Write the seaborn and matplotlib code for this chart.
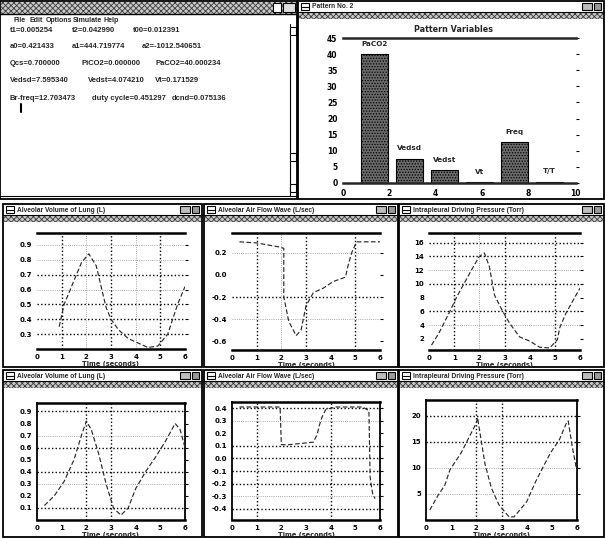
import matplotlib
matplotlib.use("Agg")
import numpy as np
import pandas as pd
import matplotlib.pyplot as plt
from matplotlib.patches import Rectangle
from matplotlib.lines import Line2D
import seaborn as sns

W, H = 605, 538

# ---------------- simulation read-out values ----------------
timing_names = ["t1", "t2", "t00"]
timing_values = [0.005254, 0.042990, 0.012391]
coef_names = ["a0", "a1", "a2"]
coef_values = [0.421433, 444.719774, -1012.540651]
gas_names = ["Qcs", "PiCO2", "PaCO2"]
gas_values = [0.700000, 0.000000, 40.000234]
vol_names = ["Vedsd", "Vedst", "Vt"]
vol_values = [7.595340, 4.074210, 0.171529]
rhythm_names = ["Br-freq", "duty cycle", "dcnd"]
rhythm_values = [12.703473, 0.451297, 0.075136]

# ---------------- pattern variables (bar chart) ----------------
bar_names = ["PaCO2", "Vedsd", "Vedst", "Vt", "Freq", "T/T"]
bar_values = [gas_values[2], vol_values[0], vol_values[1], vol_values[2],
              rhythm_values[0], rhythm_values[1]]
bar_xticklabels = ["0", "2", "4", "6", "8", "10"]
bar_yticks = [0, 5, 10, 15, 20, 25, 30, 35, 40, 45]

# ---------------- waveforms (time in seconds) ----------------
vol1_t = [0.9, 1.1, 1.4, 1.8, 2.1, 2.4, 2.6, 2.8, 3.0, 3.3, 3.7, 4.1, 4.5, 4.9, 5.3, 5.7, 6.0]
vol1_v = [0.35, 0.50, 0.62, 0.78, 0.84, 0.76, 0.62, 0.48, 0.40, 0.33, 0.27, 0.24, 0.21, 0.22, 0.30, 0.50, 0.62]

flow1_t = [0.3, 1.0, 1.5, 2.0, 2.1, 2.1, 2.3, 2.6, 2.8, 3.0, 3.3, 3.7, 4.1, 4.6, 4.7, 4.85, 5.05, 5.5, 6.0]
flow1_v = [0.30, 0.29, 0.27, 0.25, 0.24, -0.20, -0.42, -0.55, -0.50, -0.28, -0.16, -0.12, -0.06, -0.02, 0.08, 0.20, 0.30, 0.30, 0.30]

pres1_t = [0.1, 0.4, 0.8, 1.1, 1.7, 2.0, 2.2, 2.4, 2.6, 2.9, 3.2, 3.6, 4.0, 4.4, 4.8, 5.1, 5.2, 5.45, 5.8, 6.0]
pres1_v = [1.1, 2.9, 5.8, 8.1, 12.1, 14.0, 14.5, 12.5, 8.4, 6.2, 4.3, 2.3, 1.7, 0.8, 0.7, 1.9, 3.7, 5.8, 8.1, 9.4]

vol2_t = [0.3, 0.7, 1.1, 1.5, 1.8, 2.0, 2.2, 2.5, 2.8, 3.1, 3.4, 3.7, 4.0, 4.4, 4.8, 5.2, 5.6, 5.8, 6.0]
vol2_v = [0.12, 0.20, 0.32, 0.50, 0.70, 0.82, 0.75, 0.55, 0.30, 0.10, 0.04, 0.10, 0.26, 0.40, 0.52, 0.65, 0.80, 0.75, 0.60]

flow2_t = [0.3, 1.0, 1.5, 1.95, 2.0, 2.3, 2.8, 3.3, 3.45, 3.55, 3.65, 3.8, 4.2, 4.8, 5.3, 5.55, 5.6, 5.7, 5.8]
flow2_v = [0.41, 0.41, 0.41, 0.41, 0.11, 0.11, 0.12, 0.13, 0.19, 0.27, 0.33, 0.39, 0.41, 0.41, 0.41, 0.38, -0.15, -0.28, -0.32]

pres2_t = [0.15, 0.45, 0.75, 0.95, 1.4, 1.6, 2.0, 2.05, 2.2, 2.35, 2.6, 2.9, 3.3, 3.5, 4.0, 4.35, 4.7, 4.95, 5.3, 5.6, 5.65, 5.8, 6.0]
pres2_v = [1.9, 4.5, 6.7, 9.6, 12.9, 14.8, 18.6, 19.6, 15.0, 10.6, 6.1, 2.9, 0.6, 0.6, 3.5, 7.3, 10.6, 12.9, 15.4, 18.8, 19.0, 14.4, 9.2]

sns.set_style("white")
plt.rcParams["font.family"] = ["DejaVu Sans"]
plt.rcParams["hatch.linewidth"] = 0.6

fig = plt.figure(figsize=(W / 100, H / 100), dpi=100)
fig.patch.set_facecolor("white")


def frect(x0, y0, x1, y1, **kw):
    r = Rectangle((x0 / W, 1 - y1 / H), (x1 - x0) / W, (y1 - y0) / H,
                  transform=fig.transFigure, **kw)
    fig.add_artist(r)


def fline(xs, ys, **kw):
    fig.add_artist(Line2D([x / W for x in xs], [1 - y / H for y in ys],
                          transform=fig.transFigure, **kw))


def ftext(x, y, s, **kw):
    fig.text(x / W, 1 - y / H, s, **kw)


def dither(x0, y0, x1, y1):
    frect(x0, y0, x1, y1, fc="#c8c8c8", ec="#3a3a3a", hatch="xxxxxx", lw=0, zorder=-1)


def buttons(x1, y0):
    frect(x1 - 22, y0 + 2, x1 - 12, y0 + 9, fc="#bdbdbd", ec="black", lw=0.8, zorder=-0.5)
    frect(x1 - 10, y0 + 2, x1 - 3, y0 + 9, fc="#9a9a9a", ec="black", lw=0.8, zorder=-0.5)


def window(x0, y0, x1, y1, title):
    frect(x0, y0, x1, y1, fc="white", ec="black", lw=1.3, zorder=-2)
    fline([x0, x1], [y0 + 11, y0 + 11], color="black", lw=0.8, zorder=-0.5)
    frect(x0 + 3, y0 + 2, x0 + 11, y0 + 9, fc="white", ec="black", lw=0.8, zorder=-0.5)
    fline([x0 + 4, x0 + 10], [y0 + 5.5, y0 + 5.5], color="black", lw=0.8, zorder=-0.5)
    ftext(x0 + 14, y0 + 6, title, fontsize=4.8, fontweight="bold", va="center", ha="left",
          family="Liberation Sans")
    buttons(x1, y0)
    dither(x0 + 1, y0 + 11, x1 - 1, y0 + 18)


def pax(x0, y0, x1, y1):
    return fig.add_axes([x0 / W, 1 - y1 / H, (x1 - x0) / W, (y1 - y0) / H])


# ---------------- text read-out window ----------------
frect(0, 1, 297, 199, fc="white", ec="black", lw=1.3, zorder=-2)
dither(1, 2, 296, 14)
frect(273, 3, 281, 12, fc="white", ec="black", lw=0.8, zorder=-0.5)
frect(283, 3, 295, 12, fc="#e0e0e0", ec="black", lw=0.8, zorder=-0.5)
fline([0, 297], [14, 14], color="black", lw=1.0, zorder=-0.5)
for mx, m in zip([13, 29, 46, 73, 104], ["File", "Edit", "Options", "Simulate", "Help"]):
    ftext(mx, 20, m, fontsize=5.0, fontweight="bold", va="center", ha="left",
          family="Liberation Sans")
fline([290, 290], [24, 196], color="black", lw=0.8, zorder=-0.5)
for ay in (27, 153, 184):
    frect(290, ay, 296, ay + 8, fc="white", ec="black", lw=0.8, zorder=-0.5)
fline([0, 297], [196, 196], color="black", lw=0.8, zorder=-0.5)

readout_rows = [
    (timing_names, timing_values, [10, 72, 133], 30),
    (coef_names, coef_values, [10, 72, 142], 47),
    (gas_names, gas_values, [10, 81, 155], 64),
    (vol_names, vol_values, [10, 88, 155], 81),
    (rhythm_names, rhythm_values, [10, 92, 172], 98),
]
for names, vals, xs, yy in readout_rows:
    for nm, v, xx in zip(names, vals, xs):
        ftext(xx, yy, f"{nm}={v:.6f}", fontsize=5.5, fontweight="bold",
              family="Liberation Sans", va="center", ha="left")
fline([21, 21], [104, 112], color="black", lw=1.5)

# ---------------- pattern variables window ----------------
window(298, 1, 604, 199, "Pattern No. 2")
axb = pax(343, 38, 576, 183)
sns.barplot(x=bar_names, y=bar_values, ax=axb, color="#6a6a6a", saturation=1,
            width=0.77, edgecolor="black", linewidth=0.8, order=bar_names,
            hatch="......")
axb.set_xlim(-0.9, 5.76)
axb.set_ylim(0, 45)
axb.set_xticks(np.linspace(-0.9, 5.73, len(bar_xticklabels)))
axb.set_xticklabels(bar_xticklabels)
axb.set_yticks(bar_yticks)
axb.set_yticklabels([str(t) for t in bar_yticks])
axb.set_xlabel("")
axb.set_ylabel("")
for s in ("left", "right"):
    axb.spines[s].set_visible(False)
for s in ("top", "bottom"):
    axb.spines[s].set_linewidth(1.8)
axb.tick_params(axis="both", labelsize=5.5, length=2, width=0.8, pad=2,
                labelcolor="black", color="black")
axb.tick_params(axis="y", right=True, direction="out")
for lab in axb.get_xticklabels() + axb.get_yticklabels():
    lab.set_fontweight("bold")
for i, (nm, v) in enumerate(zip(bar_names, bar_values)):
    axb.text(i, v + 2.2, nm, ha="center", va="bottom", fontsize=5.2, fontweight="bold")
ftext(454, 29, "Pattern Variables", fontsize=5.8, fontweight="bold", ha="center", va="center")

# ---------------- waveform windows ----------------
dot = (0, (1, 1.6))
panels = [
    dict(win=(3, 204, 202, 367), ax=(37, 233, 185, 349),
         title="Alveolar Volume of Lung (L)", t=vol1_t, v=vol1_v,
         ylim=(0.2, 0.98), yticks=[0.3, 0.4, 0.5, 0.6, 0.7, 0.8, 0.9], fmt="{:.1f}",
         hs=[0.7, 0.5, 0.4, 0.3], hf=[0.6, 0.9, 0.8], vs=[1, 3, 5], vf=[2, 4], box=False),
    dict(win=(204, 204, 398, 367), ax=(232, 233, 380, 350),
         title="Alveolar Air Flow Wave (L/sec)", t=flow1_t, v=flow1_v,
         ylim=(-0.68, 0.38), yticks=[-0.6, -0.4, -0.2, 0.0, 0.2], fmt="{:.1f}",
         hs=[-0.2], hf=[-0.4, 0.2], vs=[1, 3, 5], vf=[2], box=False),
    dict(win=(399, 204, 604, 367), ax=(429, 233, 580, 350),
         title="Intrapleural Driving Pressure (Torr)", t=pres1_t, v=pres1_v,
         ylim=(0.4, 17.4), yticks=[2, 4, 6, 8, 10, 12, 14, 16], fmt="{:d}",
         hs=[16, 14, 10, 6], hf=[4, 12], vs=[1, 3, 5], vf=[2], box=False),
    dict(win=(3, 370, 202, 537), ax=(37, 403, 185, 520),
         title="Alveolar Volume of Lung (L)", t=vol2_t, v=vol2_v,
         ylim=(0.0, 0.97), yticks=[0.1, 0.2, 0.3, 0.4, 0.5, 0.6, 0.7, 0.8, 0.9], fmt="{:.1f}",
         hs=[0.9, 0.6, 0.4, 0.1], hf=[0.3, 0.7], vs=[2, 3], vf=[], box=True),
    dict(win=(204, 370, 398, 537), ax=(232, 402, 380, 520),
         title="Alveolar Air Flow Wave (L/sec)", t=flow2_t, v=flow2_v,
         ylim=(-0.49, 0.45), yticks=[-0.4, -0.3, -0.2, -0.1, 0.0, 0.1, 0.2, 0.3, 0.4], fmt="{:.1f}",
         hs=[0.4, 0.1, 0.0, -0.1, -0.2, -0.4], hf=[0.3, -0.3], vs=[1, 4], vf=[], box=True),
    dict(win=(399, 370, 604, 537), ax=(426, 400, 577, 520),
         title="Intrapleural Driving Pressure (Torr)", t=pres2_t, v=pres2_v,
         ylim=(0, 23), yticks=[5, 10, 15, 20], fmt="{:d}",
         hs=[20, 15], hf=[10, 5], vs=[2, 3], vf=[], box=True),
]

for p in panels:
    window(*p["win"], p["title"])
    ax = pax(*p["ax"])
    for y in p["hs"]:
        ax.axhline(y, color="black", lw=1.0, linestyle=dot, zorder=1)
    for y in p["hf"]:
        ax.axhline(y, color="#8a8a8a", lw=0.6, linestyle=dot, zorder=1)
    for x in p["vs"]:
        ax.axvline(x, color="black", lw=1.0, linestyle=dot, zorder=1)
    for x in p["vf"]:
        ax.axvline(x, color="#8a8a8a", lw=0.6, linestyle=dot, zorder=1)
    df = pd.DataFrame({"time": p["t"], "value": p["v"]})
    sns.lineplot(data=df, x="time", y="value", ax=ax, color="#2a2a2a", lw=0.85,
                 linestyle=(0, (4, 2)), sort=False, estimator=None, zorder=3)
    ax.set_xlim(0, 6)
    ax.set_ylim(*p["ylim"])
    ax.set_xticks(range(7))
    ax.set_xticklabels([str(i) for i in range(7)])
    ax.set_yticks(p["yticks"])
    ax.set_yticklabels([p["fmt"].format(int(round(t)) if p["fmt"] == "{:d}" else t)
                        for t in p["yticks"]])
    ax.set_ylabel("")
    ax.set_xlabel("Time (seconds)", fontsize=4.8, fontweight="bold", labelpad=1)
    for s in ("top", "bottom"):
        ax.spines[s].set_linewidth(1.8)
        ax.spines[s].set_color("black")
    for s in ("left", "right"):
        ax.spines[s].set_visible(p["box"])
        ax.spines[s].set_linewidth(1.3)
        ax.spines[s].set_color("black")
    ax.tick_params(axis="both", labelsize=5, length=2, width=0.8, pad=1.5,
                   labelcolor="black", color="black")
    ax.tick_params(axis="y", right=True)
    for lab in ax.get_xticklabels() + ax.get_yticklabels():
        lab.set_fontweight("bold")
    ax.set_facecolor("white")

fig.savefig("out.png", dpi=100, facecolor="white")
